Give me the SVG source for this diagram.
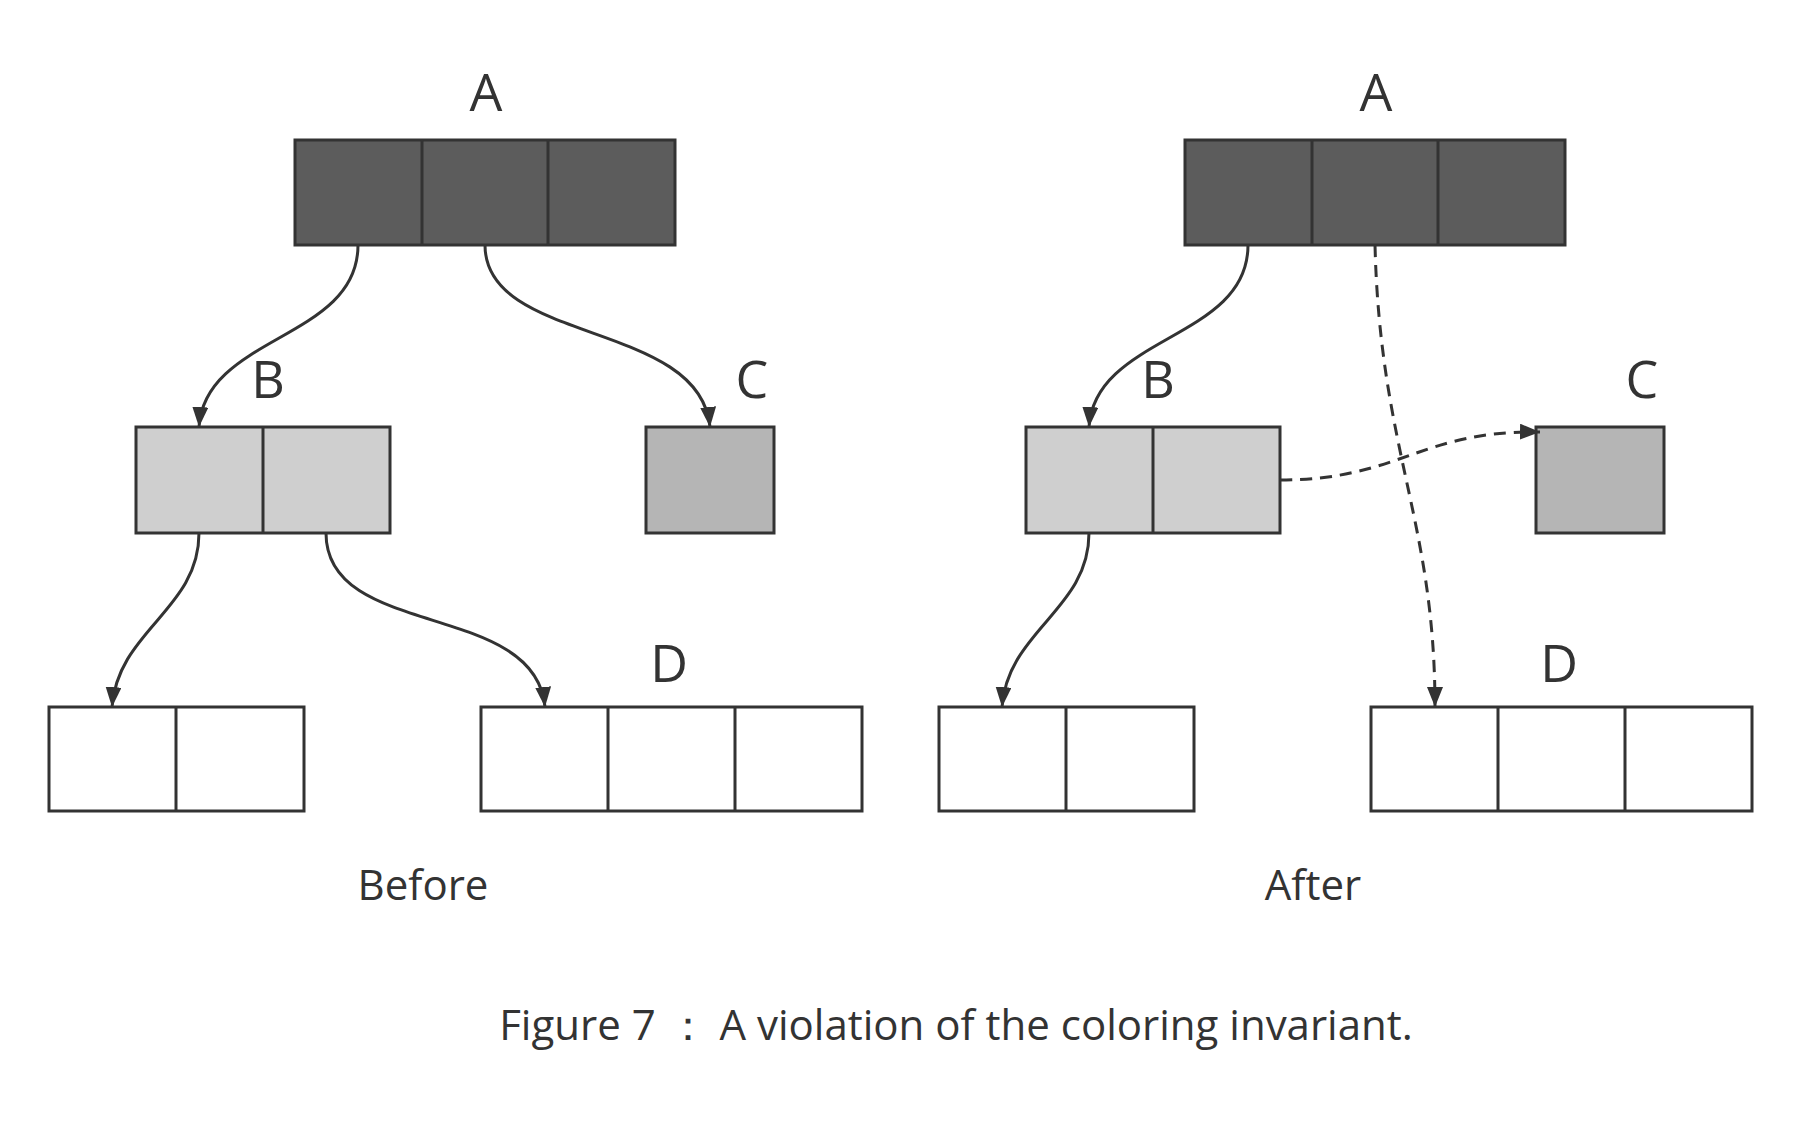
<svg xmlns="http://www.w3.org/2000/svg" width="1810" height="1126" viewBox="0 0 1810 1126">
<style>
.b{stroke:#333;stroke-width:3}
.dk{fill:#5c5c5c}.lt{fill:#cfcfcf}.md{fill:#b5b5b5}.wh{fill:#fff}
.e{fill:none;stroke:#333;stroke-width:3}
.d{stroke-dasharray:12,8}
text{font-family:"Open Sans","Noto Sans","DejaVu Sans",sans-serif;fill:#333;text-anchor:middle}
.l{font-size:52px}.s{font-size:42px}
</style>
<defs><marker id="ar" viewBox="0 0 20 16" refX="20" refY="8" markerWidth="20" markerHeight="16" markerUnits="userSpaceOnUse" orient="auto"><path d="M0,0L20,8L0,16z" fill="#333"/></marker></defs>
<rect width="1810" height="1126" fill="#fff"/>
<g id="before">
<g id="A1"><rect class="b dk" x="295" y="140" width="380" height="105"/><path class="b" d="M422,140V245M548,140V245"/><text class="l" x="486" y="111">A</text></g>
<g id="B1"><rect class="b lt" x="136" y="427" width="254" height="106"/><path class="b" d="M263,427V533"/><text class="l" x="268" y="398">B</text></g>
<g id="C1"><rect class="b md" x="646" y="427" width="128" height="106"/><text class="l" x="752" y="398">C</text></g>
<g id="E1"><rect class="b wh" x="49" y="707" width="255" height="104"/><path class="b" d="M176,707V811"/></g>
<g id="D1"><rect class="b wh" x="481" y="707" width="381" height="104"/><path class="b" d="M608,707V811M735,707V811"/><text class="l" x="669" y="682">D</text></g>
<text class="s" x="423" y="900">Before</text>
</g>
<g id="after">
<g id="A2"><rect class="b dk" x="1185" y="140" width="380" height="105"/><path class="b" d="M1312,140V245M1438,140V245"/><text class="l" x="1376" y="111">A</text></g>
<g id="B2"><rect class="b lt" x="1026" y="427" width="254" height="106"/><path class="b" d="M1153,427V533"/><text class="l" x="1158" y="398">B</text></g>
<g id="C2"><rect class="b md" x="1536" y="427" width="128" height="106"/><text class="l" x="1642" y="398">C</text></g>
<g id="E2"><rect class="b wh" x="939" y="707" width="255" height="104"/><path class="b" d="M1066,707V811"/></g>
<g id="D2"><rect class="b wh" x="1371" y="707" width="381" height="104"/><path class="b" d="M1498,707V811M1625,707V811"/><text class="l" x="1559" y="682">D</text></g>
<text class="s" x="1313" y="900">After</text>
</g>
<g id="connectors">
<path class="e" marker-end="url(#ar)" d="M358,245C358,340 205,335 199,427"/>
<path class="e" marker-end="url(#ar)" d="M485,245C485,345 700,320 710,427"/>
<path class="e" marker-end="url(#ar)" d="M199,533C199,610 118,630 112,707"/>
<path class="e" marker-end="url(#ar)" d="M326,533C326,640 535,600 545,707"/>
<path class="e" marker-end="url(#ar)" d="M1248,245C1248,340 1095,335 1089,427"/>
<path class="e" marker-end="url(#ar)" d="M1089,533C1089,610 1008,630 1002,707"/>
<path class="e d" marker-end="url(#ar)" d="M1375,245C1380,450 1435,520 1435,707"/>
<path class="e d" marker-end="url(#ar)" d="M1280,480C1400,480 1420,430 1540,432"/>
</g>
<text class="s" x="956" y="1040">Figure 7 ： A violation of the coloring invariant.</text>
</svg>
